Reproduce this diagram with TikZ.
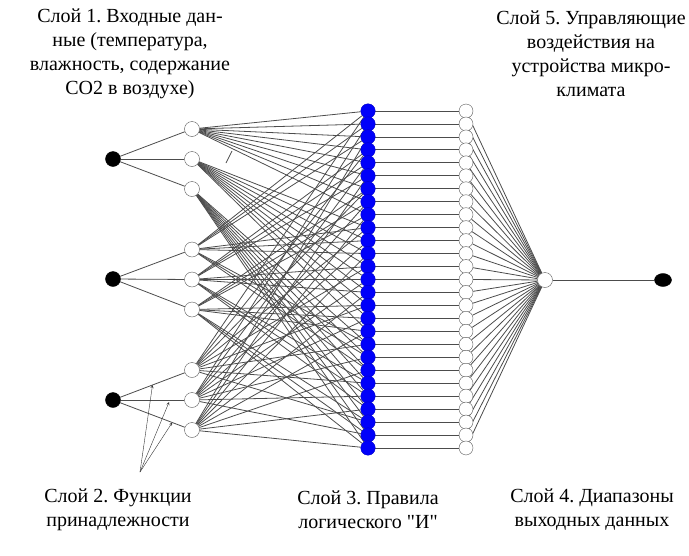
\documentclass[tikz,border=0pt]{standalone}
\usepackage{fontspec}
\setmainfont{Liberation Serif}[Ligatures=TeXOff]
\usetikzlibrary{shapes,arrows,positioning,calc,backgrounds}
\definecolor{ruleblue}{RGB}{0,0,250}
\frenchspacing

\begin{document}
\begin{tikzpicture}[x=1pt, y=-1pt]
\tikzstyle{inp} = [circle, draw, fill=black, inner sep=0pt, minimum size=15pt]
\tikzstyle{mf} = [circle, draw=gray!70!black, fill=white, inner sep=0pt, minimum size=15pt]
\tikzstyle{rl} = [circle, draw=ruleblue!80!black, fill=ruleblue, inner sep=0pt, minimum size=14.5pt]
\tikzstyle{rng} = [circle, draw=gray!70!black, fill=white, inner sep=0pt, minimum size=14pt]
\tikzstyle{w} = [draw=gray!60!black, line width=0.8pt]
\tikzstyle{lbl} = [align=center, font=\fontsize{20}{24}\selectfont]
\tikzstyle{a} = [->, >=stealth, thin, black!80]
\useasboundingbox (0,0) rectangle (689,555);

% layer 1: inputs
\foreach \i/\y in {1/159, 2/279, 3/400}
  \node [inp] (in\i) at (113,\y) {};
% layer 2: membership functions
\foreach \g in {1,2,3}
  \foreach \j in {1,2,3}
    \node [mf] (mf\g-\j) at (192, {129+120.5*(\g-1)+30*(\j-1)}) {};
% layer 3: rules, layer 4: output ranges
\foreach \k in {0,...,26} {
  \node [rl] (r\k) at (368, {111+12.96*\k}) {};
  \node [rng] (o\k) at (466, {111+12.96*\k}) {};
}
% layer 5
\node [circle, draw=gray!70!black, fill=white, inner sep=0pt, minimum size=15pt] (y) at (545,280) {};
\node [ellipse, draw, fill=black, inner sep=0pt, minimum width=17pt, minimum height=13pt] (fin) at (663,280) {};

\begin{pgfonlayer}{background}
\foreach \i in {1,2,3}
  \foreach \j in {1,2,3}
    \draw [w] (in\i) -- (mf\i-\j);
\foreach \a in {1,2,3}
  \foreach \b in {1,2,3}
    \foreach \c in {1,2,3} {
      \pgfmathtruncatemacro{\k}{9*(\a-1)+3*(\b-1)+\c-1}
      \draw [w] (mf1-\a) -- (r\k);
      \draw [w] (mf2-\b) -- (r\k);
      \draw [w] (mf3-\c) -- (r\k);
    }
\foreach \k in {0,...,26} {
  \draw [w] (r\k) -- (o\k);
  \draw [w] (o\k) -- (y);
}
\draw [w] (y) -- (fin);
\draw [w] (226,163) -- (232,151);
\end{pgfonlayer}

% arrows to the membership links
\coordinate (tail) at (140,472);
\draw [a] (tail) -- ($(in3)!0.5!(mf3-1)$);
\draw [a] (tail) -- ($(in3)!0.71!(mf3-2)+(0,2)$);
\draw [a] (tail) -- ($(in3)!0.75!(mf3-3)$);

% captions
\node [lbl] (cap1) at (130,54) {Слой 1. Входные дан-\\ные (температура,\\влажность, содержание\\CO2 в воздухе)};
\node [lbl] (cap5) at (591,54) {Слой 5. Управляющие\\воздействия на\\устройства микро-\\климата};
\node [lbl] (cap2) at (118,510) {Слой 2. Функции\\принадлежности};
\node [lbl] (cap3) at (368,510) {Слой 3. Правила\\логического "И"};
\node [lbl] (cap4) at (592,510) {Слой 4. Диапазоны\\выходных данных};
\end{tikzpicture}
\end{document}
